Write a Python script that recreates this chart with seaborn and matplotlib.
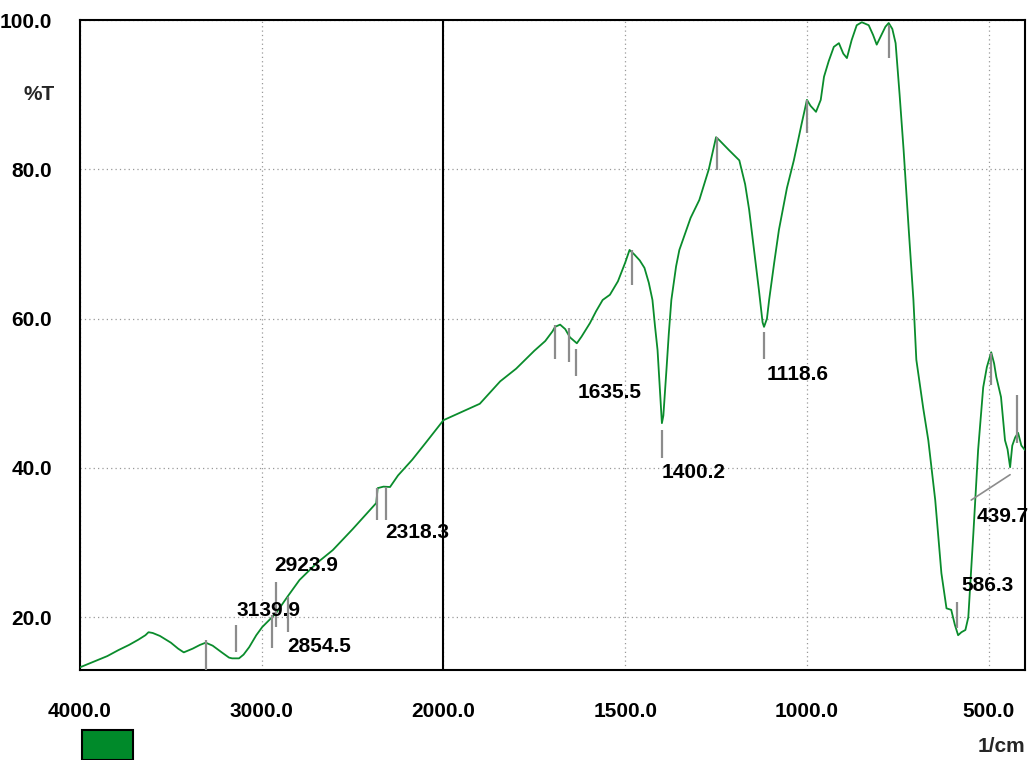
import matplotlib
matplotlib.use('Agg')
import matplotlib.pyplot as plt
from matplotlib.patches import Rectangle
import numpy as np
import pandas as pd
import seaborn as sns

# spectrum (1/cm, %T)
wavenumber = [4000, 3950, 3900, 3850, 3789, 3730, 3679, 3640, 3623, 3600, 3560, 3500, 3460, 3429,
              3380, 3340, 3308, 3270, 3220, 3180, 3163, 3125, 3100, 3069, 3030, 2997, 2960, 2920,
              2860, 2792, 2700, 2609, 2500, 2400, 2370, 2362, 2330, 2294, 2250, 2172, 2100, 2000,
              1950, 1900, 1844, 1800, 1750, 1720, 1700, 1693, 1679, 1665, 1652, 1640, 1633, 1620,
              1597, 1580, 1562, 1542, 1520, 1500, 1488, 1475, 1460, 1447, 1435, 1425, 1418, 1411,
              1404, 1399, 1395, 1390, 1386, 1380, 1373, 1360, 1351, 1320, 1296, 1270, 1250, 1241,
              1215, 1186, 1170, 1159, 1145, 1132, 1122, 1118, 1110, 1104, 1090, 1077, 1055, 1036,
              1015, 1000, 990, 975, 962, 953, 940, 926, 912, 900, 890, 877, 863, 849, 830, 818,
              808, 795, 784, 775, 765, 756, 745, 734, 720, 707, 699, 680, 666, 647, 630, 616, 603,
              593, 584, 575, 564, 556, 542, 529, 515, 505, 493, 485, 479, 466, 455, 448, 441, 435,
              427, 419, 410, 400]
transmittance = [13.3, 13.8, 14.3, 14.8, 15.6, 16.3, 17.0, 17.6, 18.0, 17.9, 17.5, 16.6, 15.8, 15.3,
                 15.8, 16.3, 16.6, 16.2, 15.3, 14.6, 14.5, 14.5, 15.0, 16.0, 17.6, 18.7, 19.6, 20.6,
                 22.7, 25.0, 27.2, 29.0, 31.8, 34.5, 35.3, 37.3, 37.5, 37.45, 39.0, 41.1, 43.3, 46.4,
                 47.5, 48.6, 51.6, 53.3, 55.7, 57.0, 58.3, 58.9, 59.2, 58.6, 57.5, 57.0, 56.7, 57.6,
                 59.4, 61.0, 62.5, 63.2, 65.0, 67.5, 69.2, 68.6, 67.8, 66.8, 64.8, 62.5, 59.0, 55.8,
                 50.0, 46.0, 47.0, 50.5, 53.5, 58.0, 62.5, 67.0, 69.2, 73.5, 75.9, 80.0, 84.3, 83.9,
                 82.6, 81.2, 78.0, 74.6, 69.0, 63.8, 59.5, 58.9, 60.0, 62.5, 67.5, 71.9, 77.5, 81.2,
                 86.0, 89.3, 88.5, 87.7, 89.3, 92.4, 94.5, 96.4, 96.9, 95.5, 94.9, 97.3, 99.3, 99.7,
                 99.3, 98.0, 96.7, 98.0, 99.1, 99.6, 98.8, 96.9, 90.0, 82.6, 72.0, 62.5, 54.5, 48.0,
                 43.7, 35.7, 25.9, 21.2, 21.0, 19.0, 17.6, 18.0, 18.3, 20.0, 31.3, 42.4, 50.8, 53.5,
                 55.5, 54.0, 52.2, 49.5, 43.7, 42.5, 40.1, 43.0, 44.1, 44.7, 43.0, 42.4]

# peak markers (short grey bars)
peak_x = [3307, 3141, 2942, 2924, 2855, 2365, 2318, 1693, 1655, 1635, 1482, 1400, 1247, 1119,
          1000, 773, 586, 493, 422]
peak_top = [17.0, 19.0, 20.3, 24.7, 22.7, 37.3, 37.45, 59.1, 58.7, 55.9, 69.2, 45.1, 84.3, 58.2,
            89.3, 99.3, 22.0, 55.4, 49.8]
peak_bottom = [12.3, 15.4, 15.9, 18.7, 18.0, 33.0, 33.0, 54.6, 54.2, 52.3, 64.5, 41.3, 79.9, 54.6,
               84.9, 94.9, 18.6, 51.1, 43.3]

# peak labels
label_text = ['3139.9', '2923.9', '2854.5', '2318.3', '1635.5', '1400.2', '1118.6', '586.3', '439.7']
label_x = [3141, 2931, 2859, 2321, 1630, 1400, 1112, 575, 534]
label_y = [19.6, 25.7, 17.4, 32.6, 51.4, 40.7, 53.8, 23.0, 34.8]
label_va = ['bottom', 'bottom', 'top', 'top', 'top', 'top', 'top', 'bottom', 'top']

x_major = [4000, 3000, 2000, 1500, 1000, 500]
x_minor = [3800, 3600, 3400, 3200, 2800, 2600, 2400, 2200, 1900, 1800, 1700, 1600, 1400, 1300,
           1200, 1100, 900, 800, 700, 600, 400]
y_major = [20, 40, 60, 80, 100]
y_minor = [16, 24, 28, 32, 36, 44, 48, 52, 56, 64, 68, 72, 76, 84, 88, 92, 96]

green = '#0a8c2c'

df = pd.DataFrame({'wavenumber': wavenumber, 'T': transmittance})

sns.set_style('white')
plt.rcParams['font.family'] = ['Liberation Sans', 'DejaVu Sans']
plt.rcParams['font.weight'] = 'bold'

fig = plt.figure(figsize=(10.34, 7.6), dpi=100)
ax = fig.add_axes([80/1034, 1 - 670/760, 945/1034, 650/760])


# the spectrometer plots 4000-2000 at half the scale of 2000-400
def fwd(x):
    x = np.asarray(x, dtype=float)
    return np.where(x <= 2000, x, 2000 + (x - 2000) / 2)


def inv(u):
    u = np.asarray(u, dtype=float)
    return np.where(u <= 2000, u, 2000 + 2 * (u - 2000))


ax.set_xscale('function', functions=(fwd, inv))

sns.lineplot(data=df, x='wavenumber', y='T', sort=False, color=green, lw=1.3, ax=ax, zorder=3)

ax.vlines(peak_x, peak_bottom, peak_top, color='#8c8c8c', lw=1.6, zorder=4)
ax.plot([441, 548], [39.1, 35.7], color='#8c8c8c', lw=1.2, zorder=4)
for t, x, y, va in zip(label_text, label_x, label_y, label_va):
    ax.text(x, y, t, ha='left', va=va, fontsize=15, fontweight='bold', color='black', zorder=5)

ax.axvline(2000, color='black', lw=1.5, zorder=2)

ax.set_xlim(4000, 400)
ax.set_ylim(12.94, 100)
ax.set_xticks(x_major)
ax.set_xticks(x_minor, minor=True)
ax.set_xticklabels(['%.1f' % v for v in x_major], fontweight='bold')
ax.set_yticks(y_major)
ax.set_yticks(y_minor, minor=True)
ax.set_yticklabels(['%.1f' % v for v in y_major], fontweight='bold')
ax.tick_params(which='major', direction='out', length=12, width=1.5, labelsize=15, colors='black')
ax.tick_params(which='minor', direction='out', length=6, width=1.5, colors='black')
ax.tick_params(axis='x', which='major', pad=11)
ax.tick_params(axis='y', which='major', pad=8)
ax.grid(True, which='major', ls=(0, (1, 2.5)), color='#999999', lw=0.9)
for s in ax.spines.values():
    s.set_color('black')
    s.set_linewidth(1.5)
ax.set_xlabel('')
ax.set_ylabel('')

fig.text(23/1034, 1 - 95/760, '%T', fontsize=15, fontweight='bold', va='center', ha='left')
fig.text(1025/1034, 1 - 746/760, '1/cm', fontsize=15, fontweight='bold', va='center', ha='right')
fig.add_artist(Rectangle((82/1034, 0), 51/1034, 30/760, transform=fig.transFigure,
                         facecolor='#008a2a', edgecolor='black', lw=1.5))

fig.savefig('out.png', dpi=100)
